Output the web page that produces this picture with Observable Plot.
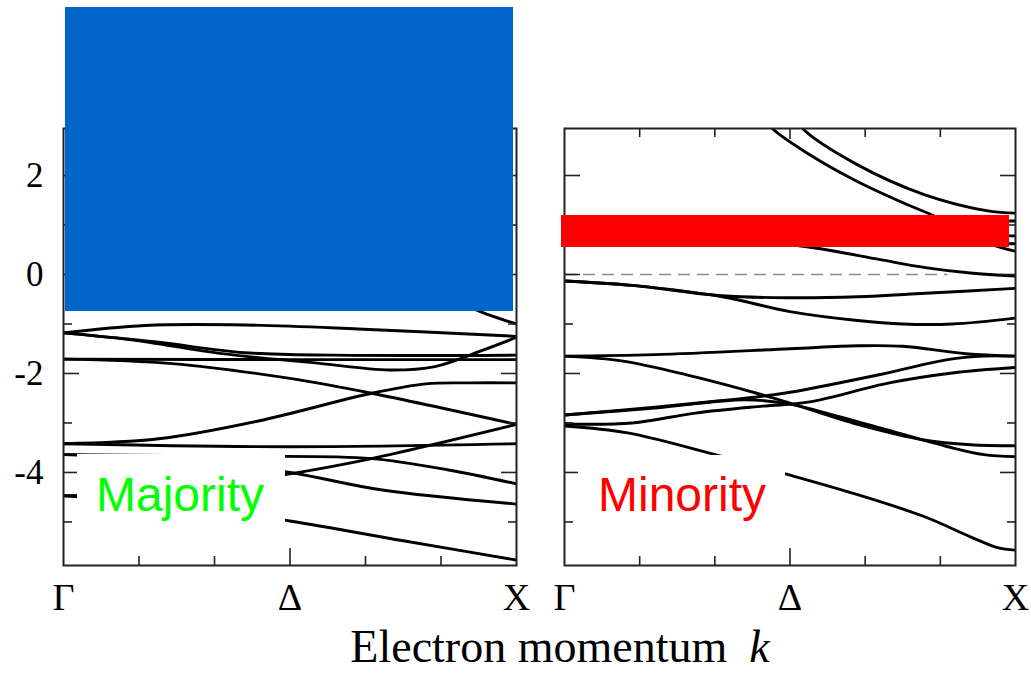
<!DOCTYPE html>
<html>
<head>
<meta charset="utf-8">
<script src="https://cdn.jsdelivr.net/npm/d3@7"></script>
<script src="https://cdn.jsdelivr.net/npm/@observablehq/plot@0.6"></script>
<style>
  html, body { margin: 0; padding: 0; background: #fff; }
  #wrap { position: relative; width: 1031px; height: 675px; overflow: hidden; background: #fff; }
  #wrap svg { position: absolute; top: 0; overflow: visible; }
  .cover { position: absolute; }
  .box { position: absolute; background: #fff; }
  .tag { position: absolute; font-family: "Liberation Sans", Arial, sans-serif; font-size: 48px; line-height: 1.2; white-space: nowrap; }
  #xtitle { position: absolute; left: 560px; top: 625px; transform: translateX(-50%); font-family: "Liberation Serif", "Times New Roman", serif; font-size: 46px; line-height: 44px; height: 44px; white-space: nowrap; color: #000; padding: 0 6px; }
</style>
</head>
<body>
<div id="wrap"></div>
<script>
// ---- axis values ----
const kLabelValues = [0, 0.5, 1];
const kLabelNames = ["Γ", "Δ", "X"];
const kMinorTicks = [1/6, 2/6, 4/6, 5/6];
const kMajorTicks = [0.5];
const eMajorTicks = [-4, -2, 0, 2];
const eMinorTicks = [-5, -3, -1, 1];
const eDomain = [-5.88, 2.95];

// ---- Majority bands: [k, E] ----
const majBand1 = [[0.75,-0.3],[0.88,-0.62],[0.95,-0.85],[1,-1.0]];
const majBand2 = [[0,-1.18],[0.18,-1.03],[0.4,-1.02],[0.65,-1.1],[1,-1.25]];
const majBand3 = [[0,-1.18],[0.2,-1.36],[0.4,-1.58],[0.6,-1.63],[1,-1.63]];
const majBand4 = [[0,-1.18],[0.15,-1.32],[0.35,-1.6],[0.55,-1.78],[0.72,-1.93],[0.82,-1.86],[0.92,-1.55],[1,-1.27]];
const majBand5 = [[0,-1.71],[0.5,-1.72],[1,-1.72]];
const majBand6 = [[0,-1.71],[0.24,-1.8],[0.5,-2.1],[0.68,-2.4],[1,-3.03]];
const majBand7 = [[0,-3.42],[0.21,-3.32],[0.43,-2.96],[0.68,-2.4],[0.8,-2.21],[0.9,-2.19],[1,-2.19]];
const majBand8 = [[0,-3.42],[0.5,-3.48],[1,-3.42]];
const majBand9 = [[0,-3.64],[0.4,-3.67],[0.68,-3.72],[0.85,-3.95],[1,-4.23]];
const majBand10 = [[0,-3.64],[0.3,-3.78],[0.5,-4.0],[0.7,-4.35],[1,-4.64]];
const majBand11 = [[0,-4.47],[0.25,-4.38],[0.5,-4.03],[0.68,-3.72],[1,-3.03]];
const majBand12 = [[0,-4.47],[0.25,-4.65],[0.5,-4.98],[0.75,-5.38],[1,-5.77]];

// ---- Minority bands: [k, E] ----
const minBand1 = [[0.44,3.2],[0.462,2.94],[0.542,2.43],[0.647,1.89],[0.758,1.42],[0.831,1.14],[0.9,0.82],[0.95,0.6],[1,0.47]];
const minBand2 = [[0.51,3.2],[0.529,2.94],[0.647,2.23],[0.796,1.62],[0.942,1.28],[1,1.24]];
const minBand3 = [[0,1.1],[0.5,1.1],[1,1.08]];
const minBand4 = [[0,0.75],[0.5,0.8],[1,0.78]];
const minBand5 = [[0,0.7],[0.5,0.68],[1,0.62]];
const minBand6 = [[0,0.85],[0.25,0.8],[0.45,0.65],[0.56,0.53],[0.7,0.3],[0.8,0.14],[0.9,0.03],[1,-0.03]];
const minBand7 = [[0,-0.13],[0.15,-0.22],[0.35,-0.43],[0.5,-0.47],[0.65,-0.45],[0.8,-0.38],[1,-0.28]];
const minBand8 = [[0,-0.13],[0.15,-0.22],[0.35,-0.45],[0.5,-0.75],[0.65,-0.93],[0.75,-1.0],[0.86,-1.0],[1,-0.88]];
const minBand9 = [[0,-1.65],[0.2,-1.62],[0.5,-1.5],[0.65,-1.44],[0.75,-1.45],[0.89,-1.6],[1,-1.65]];
const minBand10 = [[0,-1.65],[0.13,-1.75],[0.28,-2.05],[0.43,-2.41],[0.5,-2.6],[0.65,-3.03],[0.8,-3.35],[0.9,-3.44],[1,-3.46]];
const minBand11 = [[0,-2.84],[0.2,-2.7],[0.4,-2.53],[0.5,-2.62],[0.6,-2.85],[0.7,-3.1],[0.85,-3.48],[0.93,-3.64],[1,-3.68]];
const minBand12 = [[0,-2.84],[0.2,-2.68],[0.42,-2.48],[0.5,-2.38],[0.7,-2.02],[0.85,-1.72],[0.93,-1.65],[1,-1.65]];
const minBand13 = [[0,-3.02],[0.15,-3.0],[0.29,-2.8],[0.44,-2.66],[0.54,-2.58],[0.72,-2.19],[0.86,-1.99],[1,-1.88]];
const minBand14 = [[0,-3.06],[0.14,-3.2],[0.33,-3.63],[0.49,-4.03],[0.65,-4.45],[0.8,-4.9],[0.9,-5.3],[0.96,-5.52],[1,-5.57]];
const minFermi = [{k1: 0, k2: 0.85, E: 0}];

const majorityBands = [majBand1, majBand2, majBand3, majBand4, majBand5, majBand6, majBand7, majBand8, majBand9, majBand10, majBand11, majBand12];
const minorityBands = [minBand1, minBand2, minBand3, minBand4, minBand5, minBand6, minBand7, minBand8, minBand9, minBand10, minBand11, minBand12, minBand13, minBand14];

const serif = "Liberation Serif, Times New Roman, serif";

function toRows(bands) {
  return bands.flatMap((b, i) => b.map(([k, E]) => ({k, E, band: i})));
}

function panel({bands, width, marginLeft, marginRight, showYLabels, extra}) {
  const tickStyle = {label: null, tickFormat: () => "", stroke: "#222", strokeWidth: 1.6};
  return Plot.plot({
    width, height: 630,
    marginLeft, marginRight, marginTop: 128, marginBottom: 65,
    style: {overflow: "visible", background: "transparent"},
    x: {domain: [0, 1], axis: null},
    y: {domain: eDomain, axis: null},
    marks: [
      ...(extra || []),
      Plot.line(toRows(bands), {x: "k", y: "E", z: "band", curve: "catmull-rom", stroke: "#000", strokeWidth: 2.9, clip: true}),
      Plot.frame({stroke: "#222", strokeWidth: 2}),
      // inward ticks
      Plot.axisX(kMinorTicks, {...tickStyle, anchor: "bottom", tickSize: 9, dy: -9}),
      Plot.axisX(kMajorTicks, {...tickStyle, anchor: "bottom", tickSize: 17, dy: -17}),
      Plot.axisX(kMinorTicks, {...tickStyle, anchor: "top", tickSize: 8, dy: 8}),
      Plot.axisX(kMajorTicks, {...tickStyle, anchor: "top", tickSize: 10, dy: 10}),
      Plot.axisY(eMajorTicks, {...tickStyle, anchor: "left", tickSize: 16, dx: 16}),
      Plot.axisY(eMinorTicks, {...tickStyle, anchor: "left", tickSize: 9, dx: 9}),
      Plot.axisY(eMajorTicks, {...tickStyle, anchor: "right", tickSize: 16, dx: -16}),
      Plot.axisY(eMinorTicks, {...tickStyle, anchor: "right", tickSize: 9, dx: -9}),
      // labels
      Plot.axisX(kLabelValues, {anchor: "bottom", label: null, tickSize: 0, tickPadding: 18,
        tickFormat: d => kLabelNames[kLabelValues.indexOf(d)], fontSize: 38, fontFamily: serif, fill: "#000"}),
      ...(showYLabels ? [Plot.axisY(eMajorTicks, {anchor: "left", label: null, tickSize: 0, tickPadding: 20,
        tickFormat: d => String(d), fontSize: 35, fontFamily: serif, fill: "#000"})] : [])
    ]
  });
}

const wrap = document.getElementById("wrap");

const left = panel({bands: majorityBands, width: 545, marginLeft: 63, marginRight: 29, showYLabels: true});
left.style.left = "0px";
wrap.appendChild(left);

const right = panel({bands: minorityBands, width: 511, marginLeft: 44, marginRight: 16, showYLabels: false,
  extra: [Plot.ruleY(minFermi, {y: "E", x1: "k1", x2: "k2", stroke: "#8a8a8a", strokeWidth: 1.6, strokeDasharray: "12,7"})]});
right.style.left = "520px";
wrap.appendChild(right);

function addDiv(cls, css, text) {
  const d = document.createElement("div");
  d.className = cls;
  Object.assign(d.style, css);
  if (text) d.textContent = text;
  wrap.appendChild(d);
  return d;
}

// cover rectangles (as in the reference)
addDiv("cover", {left: "65px", top: "7px", width: "448px", height: "304px", background: "#0066CC"});
addDiv("cover", {left: "561px", top: "215px", width: "448px", height: "32px", background: "#FF0000"});

// legend boxes
const b1 = addDiv("box", {left: "77px", top: "454px", width: "208px", height: "86px"});
const t1 = document.createElement("div"); t1.className = "tag"; t1.textContent = "Majority";
Object.assign(t1.style, {left: "19px", top: "12px", color: "#00FF00"}); b1.appendChild(t1);
const b2 = addDiv("box", {left: "578px", top: "455px", width: "207px", height: "85px"});
const t2 = document.createElement("div"); t2.className = "tag"; t2.textContent = "Minority";
Object.assign(t2.style, {left: "20px", top: "11px", color: "#FF0000"}); b2.appendChild(t2);

// x title
const xt = document.createElement("div");
xt.id = "xtitle";
xt.innerHTML = 'Electron momentum<span style="display:inline-block;width:22px"></span><i>k</i>';
wrap.appendChild(xt);
</script>
</body>
</html>
